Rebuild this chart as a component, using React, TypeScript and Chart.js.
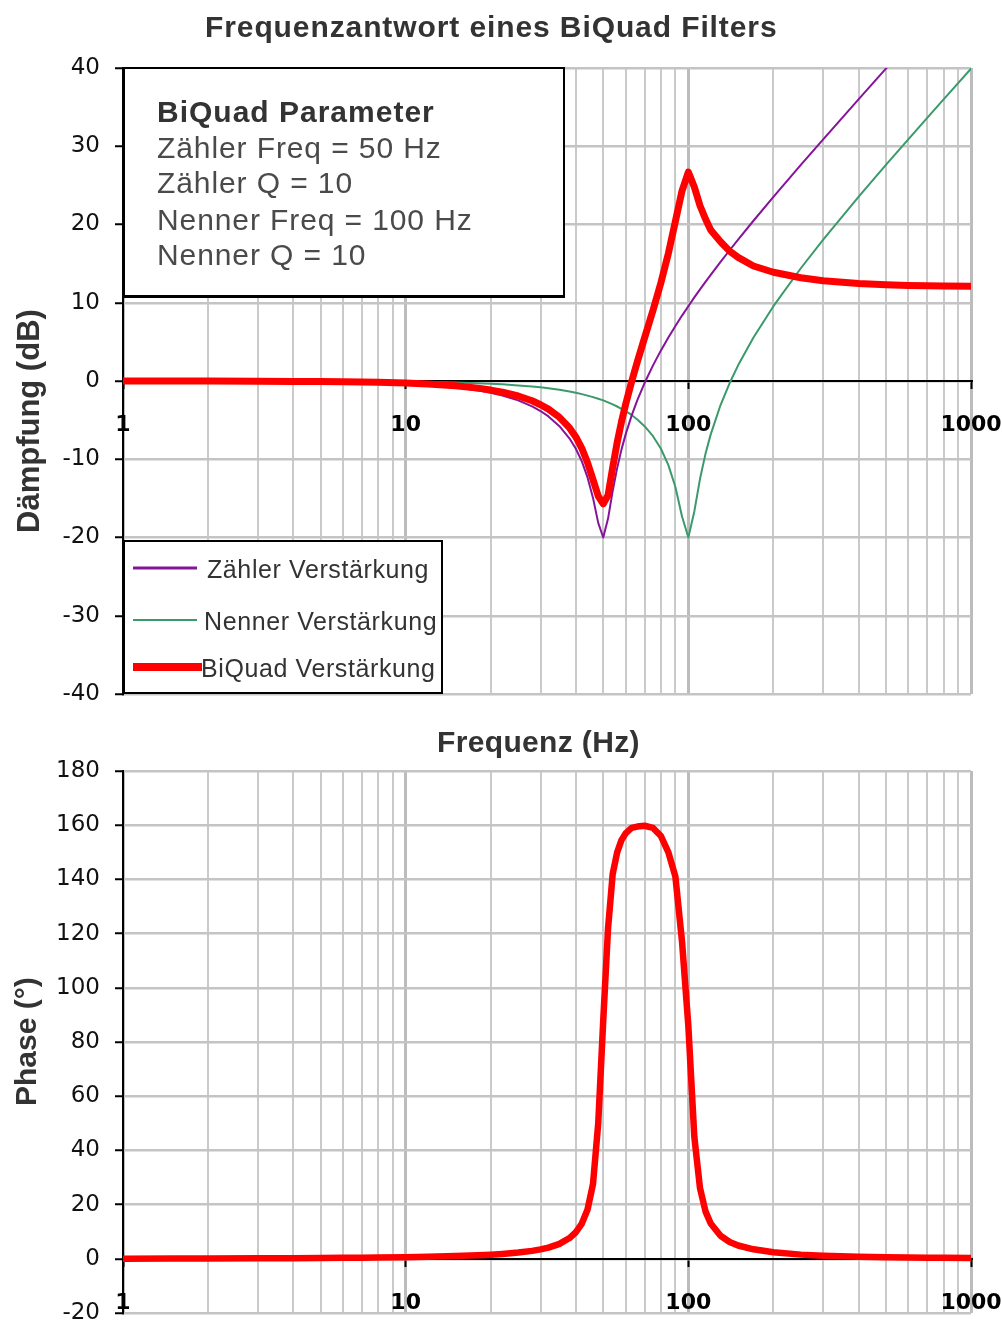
import React, { useEffect, useRef } from 'react';
import { Chart, registerables } from 'chart.js';

Chart.register(...registerables);

// ---------- data ----------
const freqHz = [
  1, 1.5, 2, 3, 4, 5, 6, 7, 8, 10, 12, 15, 18, 20, 22, 25, 28, 30, 32, 35, 38,
  40, 42, 44, 46, 48, 50, 52, 54, 56, 58, 60, 63, 66, 70, 75, 80, 85, 90, 95,
  100, 105, 110, 115, 120, 130, 140, 150, 170, 200, 250, 300, 400, 500, 600,
  700, 800, 1000,
];

const zaehlerDb = [
  0.0, 0.0, -0.01, -0.03, -0.06, -0.09, -0.13, -0.17, -0.23, -0.35, -0.51,
  -0.81, -1.2, -1.51, -1.87, -2.48, -3.24, -3.84, -4.53, -5.77, -7.35, -8.66,
  -10.28, -12.32, -14.94, -18.13, -20.0, -17.58, -14.05, -11.12, -8.77, -6.82,
  -4.42, -2.45, -0.26, 2.0, 3.91, 5.57, 7.03, 8.36, 9.56, 10.68, 11.7, 12.66,
  13.56, 15.22, 16.71, 18.07, 20.48, 23.53, 27.61, 30.89, 35.99, 39.91, 43.11,
  45.8, 48.13, 52.02,
];

const nennerDb = [
  0.0, 0.0, 0.0, -0.01, -0.01, -0.02, -0.03, -0.04, -0.06, -0.09, -0.13, -0.2,
  -0.29, -0.35, -0.43, -0.56, -0.71, -0.81, -0.94, -1.13, -1.35, -1.51, -1.68,
  -1.87, -2.06, -2.27, -2.48, -2.73, -2.99, -3.26, -3.55, -3.84, -4.34, -4.91,
  -5.77, -7.05, -8.66, -10.75, -13.55, -17.32, -20.0, -16.67, -12.5, -9.31,
  -6.82, -3.07, -0.26, 2.0, 5.57, 9.56, 14.41, 18.07, 23.53, 27.61, 30.89,
  33.63, 35.99, 39.91,
];

const biquadDb = [
  0.0, 0.0, -0.01, -0.02, -0.05, -0.07, -0.1, -0.13, -0.17, -0.26, -0.38,
  -0.61, -0.91, -1.16, -1.44, -1.92, -2.53, -3.03, -3.59, -4.64, -6.0, -7.15,
  -8.6, -10.45, -12.6, -14.7, -15.7, -14.6, -11.06, -7.86, -5.22, -2.98, -0.08,
  2.46, 5.51, 9.05, 12.57, 16.32, 20.4, 24.3, 26.7, 24.8, 22.4, 20.7, 19.3,
  17.8, 16.6, 15.8, 14.7, 13.9, 13.2, 12.82, 12.46, 12.3, 12.22, 12.17, 12.14,
  12.11,
];

const phaseDeg = [
  0.06, 0.09, 0.12, 0.17, 0.23, 0.29, 0.35, 0.41, 0.48, 0.61, 0.76, 1.01, 1.3,
  1.53, 1.8, 2.29, 2.92, 3.47, 4.15, 5.53, 7.66, 9.8, 13.0, 18.2, 27.6, 50.0,
  88.0, 122.0, 142.0, 150.0, 154.5, 157.0, 159.0, 159.5, 159.8, 159.0, 156.0,
  150.0, 141.0, 117.0, 86.0, 45.0, 26.0, 17.5, 13.0, 8.5, 6.2, 4.9, 3.5, 2.4,
  1.54, 1.17, 0.8, 0.61, 0.5, 0.42, 0.37, 0.29,
];

const xLabelValues = [1, 10, 100, 1000];
const xGridValues = [
  1, 2, 3, 4, 5, 6, 7, 8, 9, 10, 20, 30, 40, 50, 60, 70, 80, 90, 100, 200,
  300, 400, 500, 600, 700, 800, 900, 1000,
];
const dbRange = { min: -40, max: 40, step: 10 };
const phaseRange = { min: -20, max: 180, step: 20 };

const chartTitle = 'Frequenzantwort eines BiQuad Filters';
const xAxisTitle = 'Frequenz (Hz)';
const yTitleTop = 'Dämpfung (dB)';
const yTitleBottom = 'Phase (°)';
const paramTitle = 'BiQuad Parameter';
const paramLines = [
  'Zähler Freq = 50 Hz',
  'Zähler Q = 10',
  'Nenner Freq = 100 Hz',
  'Nenner Q = 10',
];
const seriesLabels = ['Zähler Verstärkung', 'Nenner Verstärkung', 'BiQuad Verstärkung'];
const seriesColors = ['#86149a', '#3a9a6c', '#ff0000'];

// ---------- helpers ----------
const SANS = '"Liberation Sans", Arial, sans-serif';

function setSpacing(ctx: any, v: string) {
  if ('letterSpacing' in ctx) ctx.letterSpacing = v;
}

function isDecade(v: any) {
  return xLabelValues.includes(v);
}

function makeXScale() {
  return {
    type: 'logarithmic',
    min: 1,
    max: 1000,
    position: { y: 0 },
    offset: false,
    afterBuildTicks: (s: any) => {
      s.ticks = xGridValues.map((v) => ({ value: v }));
    },
    afterFit: (s: any) => {
      s.height = 0;
      s.paddingLeft = 0;
      s.paddingRight = 0;
    },
    ticks: {
      autoSkip: false,
      maxRotation: 0,
      minRotation: 0,
      padding: 24,
      color: '#000',
      font: { family: '"DejaVu Sans"', size: 22, weight: 'bold' },
      callback: (v: any) => (isDecade(v) ? String(v) : ''),
    },
    grid: {
      color: (c: any) => (c.tick && isDecade(c.tick.value) ? '#bcbcbc' : '#cacaca'),
      lineWidth: (c: any) => (c.tick && isDecade(c.tick.value) ? 3 : 2),
      tickLength: 7,
      tickWidth: 2,
      tickColor: (c: any) => (c.tick && isDecade(c.tick.value) ? '#000' : 'rgba(0,0,0,0)'),
    },
    border: { display: true, color: '#000', width: 2 },
  };
}

function makeYScale(r: { min: number; max: number; step: number }) {
  return {
    type: 'linear',
    position: 'left',
    min: r.min,
    max: r.max,
    afterFit: (s: any) => {
      s.width = 123;
      s.paddingTop = 0;
      s.paddingBottom = 0;
    },
    ticks: {
      stepSize: r.step,
      padding: 15,
      color: '#111',
      font: { family: '"DejaVu Sans"', size: 23 },
      callback: (v: any) => String(v),
    },
    grid: {
      color: '#c4c4c4',
      lineWidth: 2.5,
      tickLength: 8,
      tickWidth: 2,
      tickColor: '#000',
    },
    border: { display: true, color: '#000', width: 2 },
  };
}

const topDecor = {
  id: 'topDecor',
  afterDraw(chart: any) {
    const ctx = chart.ctx;
    const ca = chart.chartArea;
    ctx.save();
    ctx.textBaseline = 'alphabetic';

    // main title
    ctx.fillStyle = '#333';
    ctx.font = `bold 30px ${SANS}`;
    ctx.textAlign = 'left';
    setSpacing(ctx, '0.9px');
    ctx.fillText(chartTitle, 205, 37);

    // y axis title
    setSpacing(ctx, '0px');
    ctx.save();
    ctx.translate(39, 533);
    ctx.rotate(-Math.PI / 2);
    ctx.font = `bold 31px ${SANS}`;
    ctx.fillText(yTitleTop, 0, 0);
    ctx.restore();

    // parameter box
    const bx = ca.left + 1, by = ca.top, bw = 440, bh = 228;
    ctx.fillStyle = '#fff';
    ctx.fillRect(bx, by, bw, bh);
    ctx.strokeStyle = '#000';
    ctx.lineWidth = 2;
    ctx.strokeRect(bx, by, bw, bh);
    ctx.fillStyle = '#000';
    ctx.fillRect(bx, by + bh - 1, bw + 1, 3);

    ctx.fillStyle = '#333';
    ctx.font = `bold 30px ${SANS}`;
    setSpacing(ctx, '1px');
    ctx.fillText(paramTitle, 157, 122);
    ctx.fillStyle = '#4a4a4a';
    ctx.font = `30px ${SANS}`;
    setSpacing(ctx, '0.9px');
    const lineY = [158, 193, 230, 265];
    paramLines.forEach((t, i) => ctx.fillText(t, 157, lineY[i]));

    // legend box
    const lx = ca.left + 1, ly = 541, lw = 318, lh = 152;
    ctx.fillStyle = '#fff';
    ctx.fillRect(lx, ly, lw, lh);
    ctx.strokeStyle = '#000';
    ctx.lineWidth = 2;
    ctx.strokeRect(lx, ly, lw, lh);

    const itemY = [568, 620, 667];
    const textX = [207, 204, 201];
    const lineEnd = [197, 197, 202];
    const sampleW = [3, 2, 8];
    chart.data.datasets.forEach((ds: any, i: number) => {
      ctx.strokeStyle = ds.borderColor;
      ctx.lineWidth = sampleW[i];
      ctx.lineCap = 'butt';
      ctx.beginPath();
      ctx.moveTo(133, itemY[i]);
      ctx.lineTo(lineEnd[i], itemY[i]);
      ctx.stroke();
      ctx.fillStyle = '#333';
      ctx.font = `25px ${SANS}`;
      setSpacing(ctx, '0.6px');
      ctx.fillText(ds.label, textX[i], itemY[i] + 10);
    });
    setSpacing(ctx, '0px');
    ctx.restore();
  },
};

const bottomDecor = {
  id: 'bottomDecor',
  afterDraw(chart: any) {
    const ctx = chart.ctx;
    ctx.save();
    ctx.textBaseline = 'alphabetic';
    ctx.fillStyle = '#333';
    ctx.font = `bold 30px ${SANS}`;
    ctx.textAlign = 'left';
    setSpacing(ctx, '0.35px');
    ctx.fillText(xAxisTitle, 437, 40);
    setSpacing(ctx, '0px');
    ctx.save();
    ctx.translate(36, 394);
    ctx.rotate(-Math.PI / 2);
    ctx.font = `bold 30px ${SANS}`;
    ctx.fillText(yTitleBottom, 0, 0);
    ctx.restore();
    ctx.restore();
  },
};

export default function App() {
  const topRef = useRef<HTMLCanvasElement>(null);
  const botRef = useRef<HTMLCanvasElement>(null);

  useEffect(() => {
    const magSeries = [zaehlerDb, nennerDb, biquadDb];
    const widths = [2, 2, 7];
    const orders = [2, 3, 1];
    const top = new Chart(topRef.current as HTMLCanvasElement, {
      type: 'line',
      data: {
        datasets: magSeries.map((vals, k) => ({
          label: seriesLabels[k],
          data: freqHz.map((f, i) => ({ x: f, y: vals[i] })),
          borderColor: seriesColors[k],
          backgroundColor: seriesColors[k],
          borderWidth: widths[k],
          pointRadius: 0,
          tension: 0,
          order: orders[k],
          borderJoinStyle: 'round',
          borderCapStyle: 'round',
        })),
      },
      options: {
        responsive: false,
        animation: false,
        devicePixelRatio: 1,
        layout: { padding: { top: 68, right: 31, bottom: 18, left: 0 } },
        plugins: { legend: { display: false }, tooltip: { enabled: false }, title: { display: false } },
        scales: { x: makeXScale(), y: makeYScale(dbRange) },
      } as any,
      plugins: [topDecor],
    } as any);

    const bottom = new Chart(botRef.current as HTMLCanvasElement, {
      type: 'line',
      data: {
        datasets: [
          {
            label: 'BiQuad Phase',
            data: freqHz.map((f, i) => ({ x: f, y: phaseDeg[i] })),
            borderColor: '#ff0000',
            borderWidth: 6.5,
            pointRadius: 0,
            tension: 0,
            borderJoinStyle: 'round',
            borderCapStyle: 'round',
          },
        ],
      },
      options: {
        responsive: false,
        animation: false,
        devicePixelRatio: 1,
        layout: { padding: { top: 59, right: 31, bottom: 12, left: 0 } },
        plugins: { legend: { display: false }, tooltip: { enabled: false }, title: { display: false } },
        scales: { x: makeXScale(), y: makeYScale(phaseRange) },
      } as any,
      plugins: [bottomDecor],
    } as any);

    return () => {
      top.destroy();
      bottom.destroy();
    };
  }, []);

  return (
    <div style={{ position: 'absolute', left: 0, top: 0, width: 1002, height: 1325, background: '#fff' }}>
      <canvas
        ref={topRef}
        width={1002}
        height={712}
        style={{ position: 'absolute', left: 0, top: 0, width: 1002, height: 712 }}
      />
      <canvas
        ref={botRef}
        width={1002}
        height={613}
        style={{ position: 'absolute', left: 0, top: 712, width: 1002, height: 613 }}
      />
    </div>
  );
}
